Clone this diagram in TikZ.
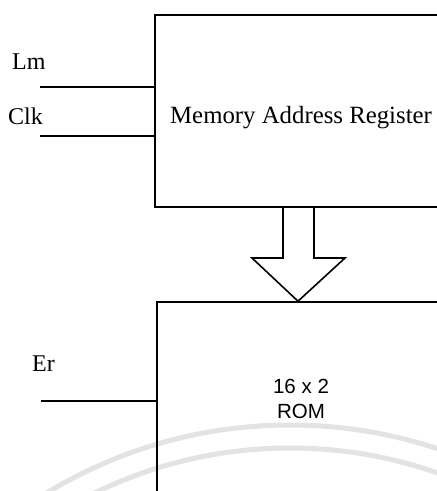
\documentclass[tikz,border=0pt]{standalone}
\usepackage{fontspec}
\setmainfont{Liberation Serif}
\newfontfamily\arialfont{Liberation Sans}
\begin{document}
\begin{tikzpicture}[x=1pt,y=-1pt,
  wire/.style={line width=1.6pt,black},
  blockbox/.style={draw=black,line width=1.6pt,fill=none,rectangle,inner sep=0pt},
  serlabel/.style={font=\fontsize{24}{28}\selectfont,anchor=base west,inner sep=0pt},
  marfont/.style={font=\fontsize{24.8}{29}\selectfont,anchor=base west,inner sep=0pt},
  sanslabel/.style={font=\arialfont\fontsize{20.5}{24}\selectfont,anchor=base,inner sep=0pt},
  wm/.style={draw=black!11,line width=5pt}]
\fill[white] (0,0) rectangle (437,491);
\useasboundingbox (0,0) rectangle (437,491);
\clip (0,0) rectangle (437,491);
% faint watermark arcs
\draw[wm] (290,894) circle[radius=469];
\draw[wm] (290,894) circle[radius=446];
% blocks
\node[blockbox,minimum width=320pt,minimum height=192pt] (mar) at (315,111) {};
\node[blockbox,minimum width=320pt,minimum height=220pt] (rom) at (317,412) {};
% texts
\node[marfont] (marlbl) at (170,123) {Memory Address Register};
\node[serlabel] (lm) at (12,69) {Lm};
\node[serlabel] (clk) at (8,124) {Clk};
\node[serlabel] (er) at (32,371) {Er};
\node[sanslabel] (romlbl1) at (301,393) {16 x 2};
\node[sanslabel] (romlbl2) at (301,418) {ROM};
% input wires
\coordinate (lmin) at (40,87);
\coordinate (clkin) at (40,136);
\coordinate (erin) at (41,401);
\draw[wire] (lmin) -- (lmin -| mar.west);
\draw[wire] (clkin) -- (clkin -| mar.west);
\draw[wire] (erin) -- (erin -| rom.west);
% bus arrow
\coordinate (ashl) at (283,0);
\coordinate (ashr) at (314,0);
\draw[wire,line join=miter] (ashl |- mar.south) -- (283,258) -- (252,258) -- (298,0 |- rom.north) -- (345,258) -- (314,258) -- (ashr |- mar.south);
\end{tikzpicture}
\end{document}
